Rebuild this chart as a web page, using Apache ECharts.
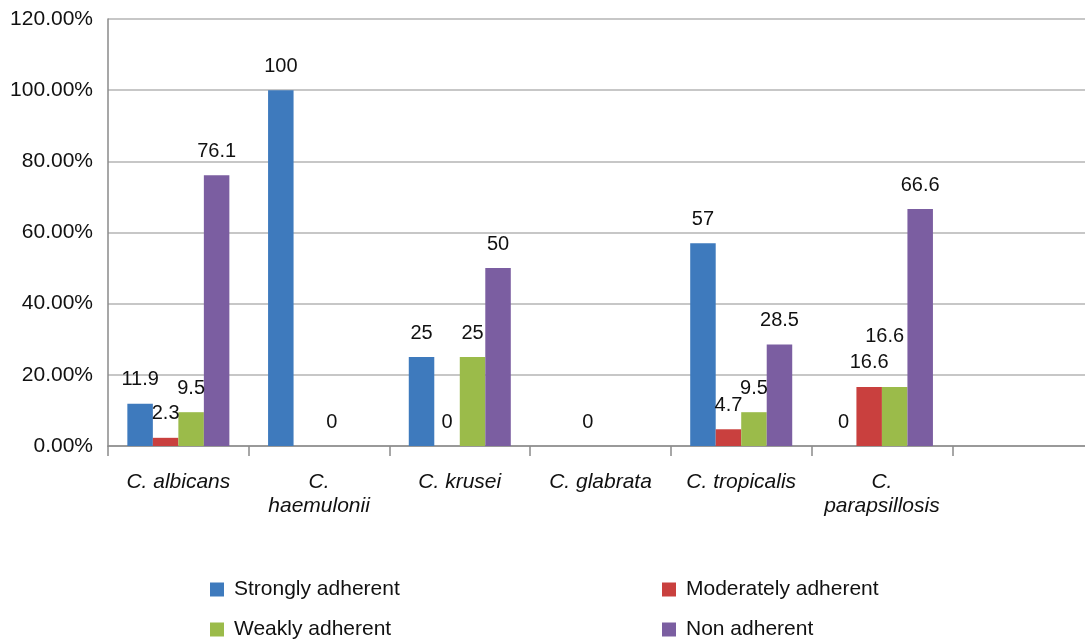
<!DOCTYPE html>
<html>
<head>
<meta charset="utf-8">
<script src="https://cdn.jsdelivr.net/npm/echarts@6/dist/echarts.min.js"></script>
<style>
html,body{margin:0;padding:0;background:#fff;}
#c{width:1085px;height:639px;}
</style>
</head>
<body>
<div id="c"></div>
<script>
var categories = ['C. albicans', 'C.\nhaemulonii', 'C. krusei', 'C. glabrata', 'C. tropicalis', 'C.\nparapsillosis', ''];
var seriesNames = ['Strongly adherent', 'Moderately adherent', 'Weakly adherent', 'Non adherent'];
var strongly = [11.9, 100, 25, null, 57, 0, null];
var moderately = [2.3, null, 0, 0, 4.7, 16.6, null];
var weakly = [9.5, 0, 25, null, 9.5, 16.6, null];
var nonAdherent = [76.1, null, 50, null, 28.5, 66.6, null];
var yTicks = [0, 20, 40, 60, 80, 100, 120];

var colors = ['#3e7abd', '#c9403e', '#9bbb4a', '#7b5ea1'];
var FONT = 'Liberation Sans, Arial, sans-serif';

function mk(name, data, color, offsets) {
  return {
    name: name,
    type: 'bar',
    barGap: '0%',
    barCategoryGap: '27.5%',
    itemStyle: { color: color },
    label: {
      show: true,
      position: 'top',
      distance: 14,
      fontFamily: FONT,
      fontSize: 20,
      color: '#111',
      formatter: function (p) { return String(p.value); }
    },
    data: data.map(function (v, i) {
      var o = { value: v };
      if (offsets && offsets[i]) o.label = { offset: offsets[i] };
      return o;
    })
  };
}

function lg(name, left, top) {
  return {
    left: left,
    top: top,
    itemWidth: 14,
    itemHeight: 14,
    icon: 'rect',
    padding: 0,
    data: [name],
    textStyle: { fontFamily: FONT, fontSize: 21, color: '#111', padding: [0, 0, 0, 5] }
  };
}

var chart = echarts.init(document.getElementById('c'));
chart.setOption({
  animation: false,
  backgroundColor: '#fff',
  textStyle: { fontFamily: FONT },
  grid: { left: 108, top: 19, width: 985, height: 427, containLabel: false, outerBoundsMode: 'none' },
  xAxis: {
    type: 'category',
    data: categories,
    axisLine: { show: true, lineStyle: { color: '#8a8a8a', width: 1.5 } },
    axisTick: { show: true, length: 10, alignWithLabel: false, lineStyle: { color: '#8a8a8a', width: 1.5 } },
    axisLabel: {
      interval: 0,
      margin: 24,
      fontFamily: FONT,
      fontSize: 21,
      fontStyle: 'italic',
      color: '#111',
      lineHeight: 24
    }
  },
  yAxis: {
    type: 'value',
    min: yTicks[0],
    max: yTicks[yTicks.length - 1],
    interval: 20,
    axisLine: { show: true, lineStyle: { color: '#8a8a8a', width: 1.5 } },
    axisTick: { show: false },
    splitLine: { show: true, lineStyle: { color: '#b5b5b5', width: 1.5 } },
    axisLabel: {
      margin: 15,
      fontFamily: FONT,
      fontSize: 21,
      color: '#111',
      formatter: function (v) { return v.toFixed(2) + '%'; }
    }
  },
  legend: [
    lg(seriesNames[0], 210, 579),
    lg(seriesNames[1], 662, 579),
    lg(seriesNames[2], 210, 619),
    lg(seriesNames[3], 662, 619)
  ],
  series: [
    mk(seriesNames[0], strongly, colors[0]),
    mk(seriesNames[1], moderately, colors[1]),
    mk(seriesNames[2], weakly, colors[2], { 5: [-10, -26] }),
    mk(seriesNames[3], nonAdherent, colors[3])
  ]
});
</script>
</body>
</html>
